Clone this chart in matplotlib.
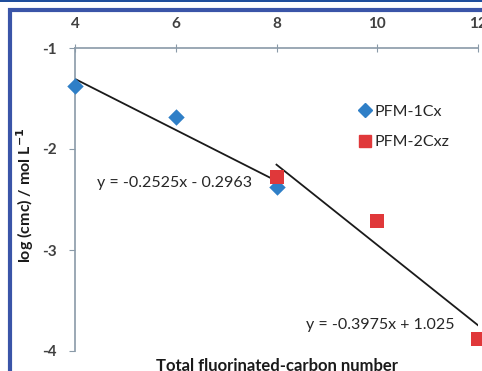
import matplotlib
matplotlib.use("Agg")
import matplotlib.pyplot as plt
from matplotlib.patches import Rectangle
from matplotlib.lines import Line2D

# Data
x_1cx = [4, 6, 8]
y_1cx = [-1.38, -1.68, -2.38]
x_2cxz = [8, 10, 12]
y_2cxz = [-2.28, -2.71, -3.88]
fit1_x = [4, 8]
fit1_slope, fit1_int = -0.2525, -0.2963
fit2_x = [8, 12]
fit2_slope, fit2_int = -0.3975, 1.025
xticks = [4, 6, 8, 10, 12]
yticks = [-1, -2, -3, -4]

W, H = 482, 371
fig = plt.figure(figsize=(W / 100, H / 100), dpi=100)
fig.patch.set_facecolor("white")
plt.rcParams['font.family'] = ['Lato', 'DejaVu Sans']

# Decorative frame
fig.add_artist(Rectangle((0, 1 - 2 / H), 1, 2 / H, transform=fig.transFigure,
                         facecolor="#1f4e9c", edgecolor="none"))
fig.add_artist(Rectangle((10 / W, -0.1), 1.2, 1 - 10 / H + 0.1, transform=fig.transFigure,
                         facecolor="none", edgecolor="#3a55a8", linewidth=3))

l, r, t, b = 75, 478, 48, 351
ax = fig.add_axes([l / W, 1 - b / H, (r - l) / W, (b - t) / H])
ax.set_facecolor("none")
ax.set_xlim(4, 12)
ax.set_ylim(-4, -1)

for s in ["bottom", "right"]:
    ax.spines[s].set_visible(False)
for s in ["top", "left"]:
    ax.spines[s].set_color("#8a9aa8")
    ax.spines[s].set_linewidth(1.2)

ax.xaxis.tick_top()
ax.set_xticks(xticks)
ax.set_yticks(yticks)
ax.set_xticklabels([str(v) for v in xticks])
ax.set_yticklabels([str(v) for v in yticks])
ax.tick_params(axis="x", direction="inout", length=6, color="#8a9aa8",
               labelsize=11, labelcolor="#404040", pad=9)
ax.tick_params(axis="y", direction="out", length=4, color="#8a9aa8",
               labelsize=11, labelcolor="#404040", pad=9)
for lab in ax.get_xticklabels() + ax.get_yticklabels():
    lab.set_fontweight("bold")

# Trendlines
ax.plot(fit1_x, [fit1_slope * v + fit1_int for v in fit1_x], color="#1a1a1a", lw=1.3, zorder=2)
ax.plot(fit2_x, [fit2_slope * v + fit2_int for v in fit2_x], color="#1a1a1a", lw=1.3, zorder=2)

# Data points
ax.scatter(x_1cx, y_1cx, marker="D", s=70, color="#2f7fc7", zorder=3, clip_on=False, linewidths=0)
ax.scatter(x_2cxz, y_2cxz, marker="s", s=100, color="#e0383a", zorder=4, clip_on=False, linewidths=0)

# Equations
ax.text(4.44, -2.34, "y = -0.2525x - 0.2963", fontsize=11.5, color="#262626",
        ha="left", va="center")
ax.text(8.58, -3.74, "y = -0.3975x + 1.025", fontsize=11.5, color="#262626",
        ha="left", va="center")

# Legend
handles = [Line2D([], [], marker="D", color="#2f7fc7", ls="none", markersize=7),
           Line2D([], [], marker="s", color="#e0383a", ls="none", markersize=9)]
ax.legend(handles, ["PFM-1Cx", "PFM-2Cxz"], loc="upper left",
          bbox_to_anchor=(0.665, 0.86), frameon=False, fontsize=11.5,
          handletextpad=0.1, handlelength=1.0, labelspacing=1.0, labelcolor="#262626")

# Axis labels
fig.text(25 / W, 1 - 195 / H, "log (cmc) / mol L$^{\\mathbf{-1}}$", rotation=90,
         fontsize=11.5, fontweight="bold", color="#1a1a1a", ha="center", va="center")
fig.text(277 / W, 1 - 358 / H, "Total fluorinated-carbon number", fontsize=12,
         fontweight="bold", color="#1a1a1a", ha="center", va="top")

fig.savefig("out.png", dpi=100)
